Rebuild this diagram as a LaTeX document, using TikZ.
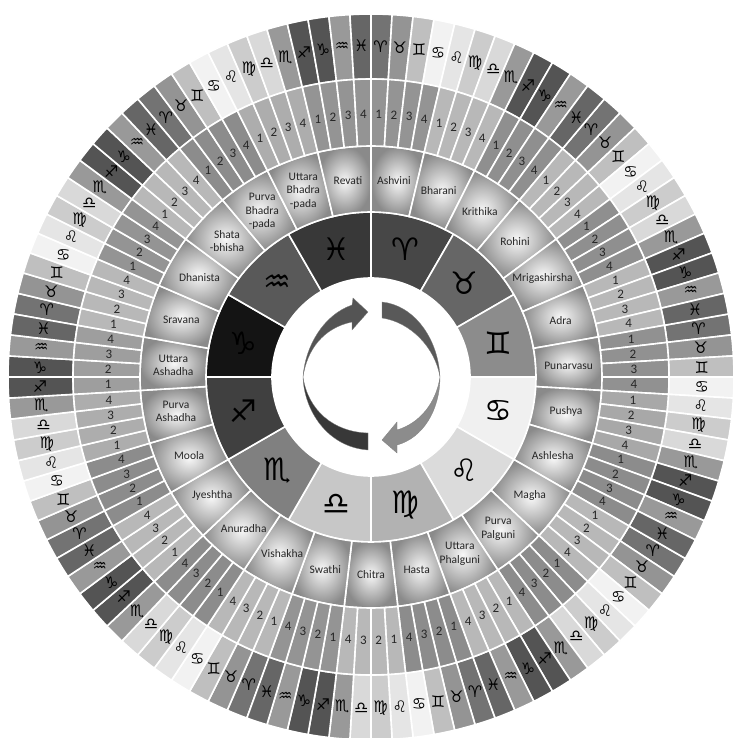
\documentclass[tikz,border=0pt]{standalone}
\usepackage{fontspec}
\usepackage{xcolor}
\usepackage{tikz}
\setmainfont{Carlito}
\newfontfamily\zodiacfont{DejaVu Sans}
\definecolor{ink}{HTML}{262626}
\newcommand{\ringcell}[4]{({#3}:#1pt) arc[start angle={#3},end angle={#4},radius=#1pt] -- ({#4}:#2pt) arc[start angle={#4},end angle={#3},radius=#2pt] -- cycle}
\begin{document}
\begin{tikzpicture}[x=1pt,y=1pt,every node/.style={text=ink,inner sep=0pt},
    cell/.style={draw=white,line width=1.6pt},
    nakcell/.style={cell,shade,inner color=black!3,outer color=black!46},
    signmark/.style={font=\zodiacfont\fontsize{31}{31}\selectfont,text=black},
    navmark/.style={font=\zodiacfont\bfseries\fontsize{16}{16}\selectfont,text=black},
    nakname/.style={font=\fontsize{11.5}{13.5}\selectfont,align=center},
    padanum/.style={font=\fontsize{13}{13}\selectfont},
    arrowpart/.style={draw=black!50,line width=.3pt}]
    \useasboundingbox (-371,-361) rectangle (361,377);
    % signs
    \foreach \sym/\g [count=\s from 0] in {♈/72,♉/60,♊/45,♋/6,♌/14,♍/30,♎/22,♏/50,♐/75,♑/92,♒/65,♓/78}{
      \pgfmathsetmacro{\a}{90-30*\s}
      \pgfmathsetmacro{\b}{\a-30}
      \pgfmathsetmacro{\m}{\a-15}
      \path[cell,fill=black!\g] \ringcell{99}{165}{\a}{\b};
      \node[signmark] (sign\s) at (\m:132pt) {\sym};
    }
    % outer ring, nine times round
    \foreach \sym/\g [count=\s from 0] in {♈/55,♉/42,♊/25,♋/5,♌/10,♍/20,♎/15,♏/40,♐/67,♑/67,♒/40,♓/60}{
      \foreach \c in {0,...,8}{
        \pgfmathsetmacro{\p}{90-(\c*12+\s)*10/3}
        \pgfmathsetmacro{\q}{\p-10/3}
        \pgfmathsetmacro{\r}{\p-5/3}
        \path[cell,fill=black!\g] \ringcell{298}{363}{\p}{\q};
        \node[navmark] (nav\s-\c) at (\r:331pt) {\sym};
      }
    }
    % nakshatras and padas
    \foreach \txt/\g [count=\n from 0] in {Ashvini/42,Bharani/28,Krithika/44,Rohini/28,Mrigashirsha/44,Adra/28,Punarvasu/43,Pushya/34,Ashlesha/45,Magha/28,{Purva\\Palguni}/45,{Uttara\\Phalguni}/28,Hasta/45,Chitra/28,Swathi/42,Vishakha/28,Anuradha/45,Jyeshtha/28,Moola/45,{Purva\\Ashadha}/32,{Uttara\\Ashadha}/38,Sravana/28,Dhanista/42,{Shata\\-bhisha}/28,{Purva\\Bhadra\\-pada}/45,{Uttara\\Bhadra\\-pada}/32,Revati/42}{
      \pgfmathsetmacro{\a}{90-\n*40/3}
      \pgfmathsetmacro{\b}{\a-40/3}
      \pgfmathsetmacro{\m}{\a-20/3}
      \path[nakcell] \ringcell{165}{231}{\a}{\b};
      \node[nakname] (nak\n) at (\m:198pt) {\txt};
      \foreach \d in {1,...,4}{
        \pgfmathsetmacro{\p}{\a-(\d-1)*10/3}
        \pgfmathsetmacro{\q}{\p-10/3}
        \pgfmathsetmacro{\r}{\p-5/3}
        \path[cell,fill=black!\g] \ringcell{231}{298}{\p}{\q};
        \node[padanum] (pada\n-\d) at (\r:263pt) {\d};
      }
    }
    % centre arrows
    \path[arrowpart,fill=black!67] (-68,0) .. controls (-66,30) and (-48,62) .. (-19,72) -- (-18,79) -- (-3,65) -- (-19,47) -- (-19,55) .. controls (-48,49) and (-64,27) .. (-68,0) -- cycle;
    \path[arrowpart,fill=black!78] (-68,0) .. controls (-67,-33) and (-44,-70) .. (-3,-73) -- (-3,-56) .. controls (-38,-55) and (-63,-33) .. (-68,0) -- cycle;
    \path[arrowpart,fill=black!65] (11,75) .. controls (42,72) and (67,40) .. (69,0) .. controls (64,30) and (39,55) .. (11,59) -- cycle;
    \path[arrowpart,fill=black!45] (69,0) .. controls (69,-33) and (52,-61) .. (26,-68) -- (26,-76) -- (11,-63) -- (26,-45) -- (26,-53) .. controls (49,-46) and (65,-26) .. (69,0) -- cycle;
  \end{tikzpicture}
\end{document}
